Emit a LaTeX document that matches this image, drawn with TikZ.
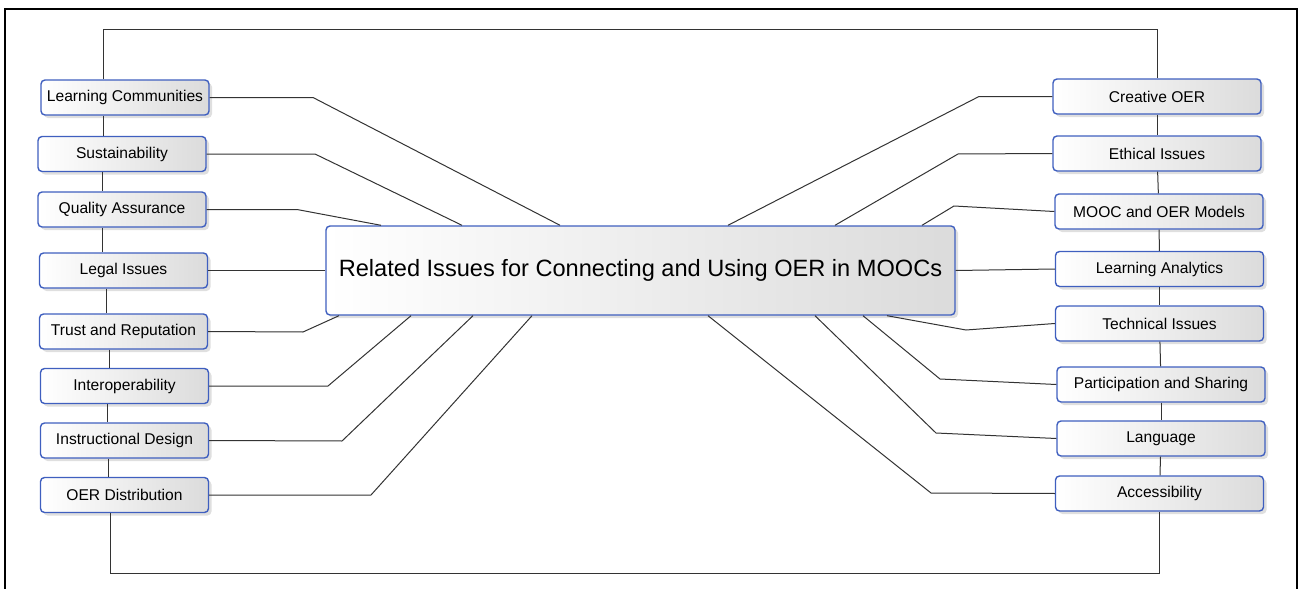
\documentclass[tikz,border=0pt]{standalone}
\usepackage{fontspec}
\setmainfont{Liberation Sans}
\usetikzlibrary{shadows}

\definecolor{boxblue}{HTML}{3F5FBF}
\tikzset{
  issue/.style={draw=boxblue, line width=0.7pt, rounded corners=2pt,
    left color=white, right color=black!14,
    drop shadow={shadow xshift=1.5pt, shadow yshift=-1.5pt, opacity=0.25},
    minimum width=84pt, minimum height=17.5pt, inner sep=0pt,
    font=\fontsize{7.8}{9}\selectfont},
  wide/.style={minimum width=104pt},
  hub/.style={issue, minimum width=314.5pt, minimum height=44.5pt,
    font=\fontsize{11.8}{14}\selectfont},
  link/.style={draw=black!80, line width=0.5pt}
}

\begin{document}
\begin{tikzpicture}[x=0.5pt, y=-0.5pt]
      \useasboundingbox (0,0) rectangle (1298,589);
      \draw[line width=1pt] (5,600) -- (5,9) -- (1297,9) -- (1297,600);

      \node[hub] (hub) at (640.5,270.5) {Related Issues for Connecting and Using OER in MOOCs};

      \node[issue] (lc) at (125,97.5) {Learning Communities};
      \node[issue] (su) at (122,154) {Sustainability};
      \node[issue] (qa) at (122,209.5) {Quality Assurance};
      \node[issue] (li) at (123.5,270.5) {Legal Issues};
      \node[issue] (tr) at (123.5,331.5) {Trust and Reputation};
      \node[issue] (io) at (124.5,386) {Interoperability};
      \node[issue] (id) at (124.5,440.5) {Instructional Design};
      \node[issue] (od) at (124.5,495) {OER Distribution};

      \node[issue, wide] (co) at (1157,96.5) {Creative OER};
      \node[issue, wide] (et) at (1157,153.5) {Ethical Issues};
      \node[issue, wide] (mm) at (1159,211.5) {MOOC and OER Models};
      \node[issue, wide] (la) at (1159.5,269) {Learning Analytics};
      \node[issue, wide] (ti) at (1159.5,323.5) {Technical Issues};
      \node[issue, wide] (ps) at (1161,384.5) {Participation and Sharing};
      \node[issue, wide] (lg) at (1161,438.5) {Language};
      \node[issue, wide] (ac) at (1159.5,493.5) {Accessibility};

      \draw[link] (lc.east) -- (313,97.5) -- (560,0 |- hub.north);
      \draw[link] (su.east) -- (315,154) -- (462,0 |- hub.north);
      \draw[link] (qa.east) -- (297,209.5) -- (381,0 |- hub.north);
      \draw[link] (li.east) -- (hub.west);
      \draw[link] (tr.east) -- (303,332) -- (339,0 |- hub.south);
      \draw[link] (io.east) -- (328,386) -- (411,0 |- hub.south);
      \draw[link] (id.east) -- (342,441) -- (473,0 |- hub.south);
      \draw[link] (od.east) -- (371,495) -- (532,0 |- hub.south);

      \draw[link] (728,0 |- hub.north) -- (979,96.5) -- (co.west);
      \draw[link] (835,0 |- hub.north) -- (958,154) -- (et.west);
      \draw[link] (922,0 |- hub.north) -- (954,206) -- (mm.west);
      \draw[link] (hub.east) -- (la.west);
      \draw[link] (887,0 |- hub.south) -- (966,330) -- (ti.west);
      \draw[link] (863,0 |- hub.south) -- (940,379) -- (ps.west);
      \draw[link] (815,0 |- hub.south) -- (936,433) -- (lg.west);
      \draw[link] (708,0 |- hub.south) -- (931,493) -- (ac.west);

      \draw[link] (lc.north -| 103,0) -- (103,29) -| (co.north);
      \draw[link] (lc.south -| 103,0) -- (su.north -| 103,0);
      \draw[link] (su.south -| 102,0) -- (qa.north -| 102,0);
      \draw[link] (qa.south -| 102,0) -- (li.north -| 102,0);
      \draw[link] (li.south -| 106,0) -- (tr.north -| 106,0);
      \draw[link] (tr.south -| 109,0) -- (io.north -| 109,0);
      \draw[link] (io.south -| 107,0) -- (id.north -| 107,0);
      \draw[link] (id.south -| 108,0) -- (od.north -| 108,0);
      \draw[link] (od.south -| 110,0) -- (110,573) -| (ac.south);

      \draw[link] (co) -- (et);
      \draw[link] (et) -- (mm);
      \draw[link] (mm) -- (la);
      \draw[link] (la) -- (ti);
      \draw[link] (ti) -- (ps);
      \draw[link] (ps) -- (lg);
      \draw[link] (lg) -- (ac);
\end{tikzpicture}
\end{document}
